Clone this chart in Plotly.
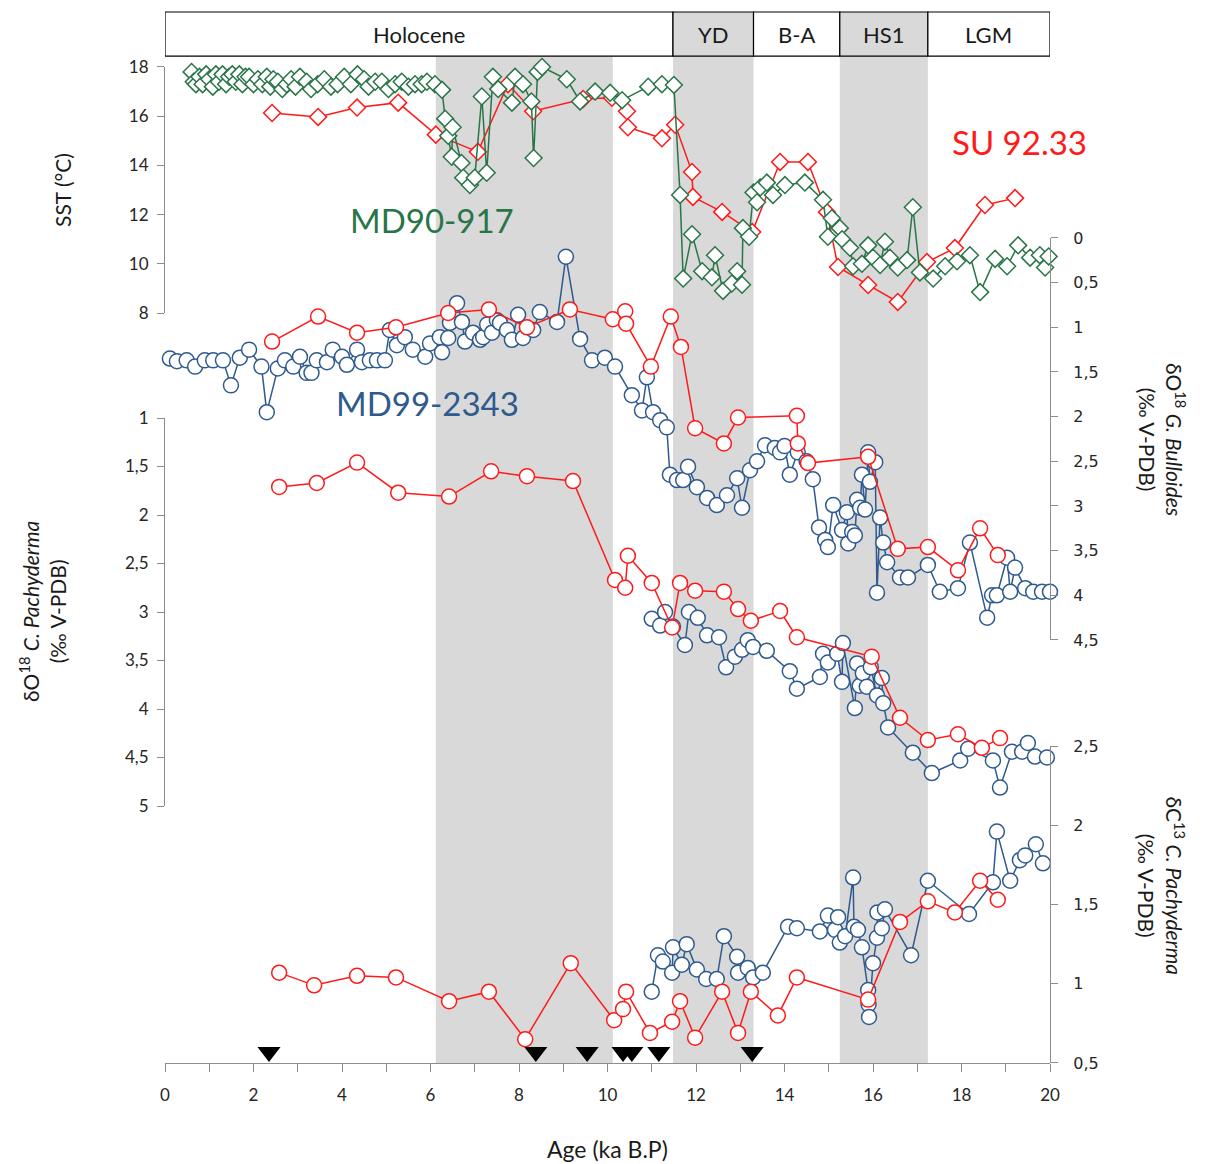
import plotly.graph_objects as go

# ---- data ----
periods = ['Holocene', 'YD', 'B-A', 'HS1', 'LGM']
period_start = [0, 11.48, 13.3, 15.25, 17.24]
period_end = [11.48, 13.3, 15.25, 17.24, 20.0]
period_shaded = [False, True, False, True, False]
band_start = [6.12, 11.48, 15.25]
band_end = [10.12, 13.3, 17.24]

# SST MD90-917
md90_age = [0.6, 0.65, 0.7, 0.78, 0.85, 0.93, 1.0, 1.08, 1.15, 1.22, 1.3, 1.38, 1.45, 1.52, 1.6,
            1.68, 1.75, 1.82, 1.9, 2.0, 2.1, 2.2, 2.3, 2.38, 2.45, 2.55, 2.65, 2.75, 2.85, 2.95,
            3.05, 3.2, 3.3, 3.45, 3.6, 3.75, 3.9, 4.05, 4.2, 4.35, 4.5, 4.6, 4.75, 4.9, 5.05,
            5.2, 5.35, 5.5, 5.65, 5.8, 5.92, 6.1, 6.26, 6.33, 6.4, 6.48, 6.5, 6.7, 6.74, 6.89,
            7.0, 7.16, 7.27, 7.41, 7.53, 7.84, 7.91, 8.09, 8.28, 8.33, 8.42, 8.52, 9.08, 9.38,
            9.72, 10.06, 10.33, 10.92, 11.23, 11.5, 11.64, 11.71, 11.91, 12.14, 12.36, 12.43,
            12.61, 12.81, 12.93, 13.04, 13.06, 13.2, 13.3, 13.38, 13.45, 13.6, 13.74, 14.01,
            14.46, 14.87, 14.98, 15.07, 15.25, 15.3, 15.48, 15.55, 15.75, 15.89, 16.0, 16.16,
            16.27, 16.38, 16.56, 16.77, 16.9, 17.06, 17.36, 17.63, 17.9, 18.19, 18.42, 18.76,
            19.03, 19.28, 19.55, 19.77, 19.89, 19.97]
md90_sst = [17.8, 17.4, 17.3, 17.6, 17.3, 17.7, 17.5, 17.2, 17.7, 17.4, 17.7, 17.3, 17.6, 17.7, 17.4,
            17.7, 17.3, 17.6, 17.6, 17.3, 17.5, 17.3, 17.6, 17.2, 17.5, 17.4, 17.1, 17.3, 17.5, 17.2,
            17.6, 17.4, 17.1, 17.3, 17.5, 17.2, 17.3, 17.6, 17.3, 17.7, 17.5, 17.2, 17.4, 17.4, 17.1,
            17.3, 17.4, 17.2, 17.3, 17.3, 17.4, 17.3, 17.07, 15.9, 15.2, 14.35, 15.55, 14.1, 13.5, 13.2,
            13.5, 16.8, 13.7, 17.6, 17.1, 16.55, 17.6, 17.3, 16.6, 14.3, 17.8, 18.0, 17.5, 16.6,
            17.0, 16.95, 16.65, 17.2, 17.3, 17.27, 12.8, 9.4, 11.2, 9.7, 9.45, 10.35,
            8.9, 9.2, 9.7, 9.15, 11.45, 11.1, 12.9, 12.5, 13.1, 13.3, 12.8, 13.2,
            13.3, 12.6, 11.1, 11.85, 11.45, 11.0, 10.65, 9.9, 10.0, 10.75, 10.25, 9.95,
            10.9, 10.25, 9.85, 10.15, 12.3, 9.65, 9.4, 9.9, 10.1, 10.35, 8.85, 10.2,
            9.9, 10.75, 10.25, 10.35, 9.85, 10.3]

# SST SU 92.33
su_sst_age = [2.42, 3.46, 4.34, 5.27, 6.12, 7.07, 7.75, 8.32, 9.45, 10.1, 10.44, 10.46, 11.23, 11.53,
              11.91, 11.93, 12.59, 13.27, 13.9, 14.53, 14.96, 15.21, 15.89, 16.56, 17.22, 17.85,
              18.53, 19.21]
su_sst = [16.13, 15.97, 16.35, 16.55, 15.25, 14.55, 17.3, 16.2, 16.7, 16.75, 16.2, 15.55, 15.1, 15.65,
          13.73, 12.72, 12.11, 11.29, 14.14, 14.14, 12.1, 9.87, 9.14, 8.45, 10.07, 10.64,
          12.39, 12.67]

# d18O G. bulloides MD99-2343
md99_bul_age = [0.11, 0.27, 0.49, 0.68, 0.9, 1.09, 1.31, 1.49, 1.69, 1.9, 2.18, 2.3, 2.55, 2.71, 2.9,
                3.05, 3.2, 3.31, 3.43, 3.66, 3.79, 4.0, 4.11, 4.34, 4.45, 4.63, 4.79, 4.97, 5.08,
                5.24, 5.42, 5.6, 5.88, 5.99, 6.21, 6.26, 6.4, 6.44, 6.6, 6.71, 6.78, 6.96, 7.12,
                7.19, 7.28, 7.39, 7.5, 7.57, 7.73, 7.84, 7.98, 8.09, 8.32, 8.47, 8.86, 9.06, 9.38,
                9.65, 9.94, 10.17, 10.55, 10.78, 10.89, 11.03, 11.19, 11.34, 11.41, 11.57, 11.71,
                11.82, 12.02, 12.25, 12.47, 12.7, 12.93, 13.04, 13.22, 13.38, 13.56, 13.78, 13.9,
                14.0, 14.12, 14.3, 14.5, 14.64, 14.78, 14.92, 14.98, 15.1, 15.3, 15.41, 15.44,
                15.53, 15.59, 15.64, 15.71, 15.75, 15.82, 15.89, 15.93, 16.05, 16.09, 16.16, 16.23,
                16.32, 16.61, 16.79, 17.24, 17.51, 17.92, 18.19, 18.58, 18.69, 18.8, 19.03, 19.1,
                19.21, 19.44, 19.62, 19.82, 20.0]
md99_bul = [1.35, 1.38, 1.37, 1.44, 1.37, 1.37, 1.37, 1.65, 1.34, 1.25, 1.44, 1.95, 1.46, 1.37, 1.44,
            1.33, 1.51, 1.51, 1.37, 1.39, 1.25, 1.33, 1.42, 1.25, 1.39, 1.37, 1.37, 1.37, 1.03,
            1.2, 1.11, 1.25, 1.33, 1.18, 1.11, 1.28, 1.12, 0.95, 0.73, 0.94, 1.16, 1.06, 1.14,
            1.11, 0.97, 1.06, 0.92, 0.95, 1.03, 1.14, 0.86, 1.12, 1.03, 0.83, 0.94, 0.21, 1.13,
            1.37, 1.34, 1.44, 1.76, 1.93, 1.56, 1.95, 2.04, 2.12, 2.65, 2.71, 2.71,
            2.56, 2.79, 2.91, 2.99, 2.88, 2.69, 3.02, 2.6, 2.5, 2.32, 2.35, 2.4,
            2.33, 2.65, 2.4, 2.5, 2.7, 3.24, 3.38, 3.46, 2.99, 3.27, 3.07, 3.42,
            3.29, 3.33, 2.93, 3.02, 2.65, 3.04, 2.4, 2.73, 2.51, 3.97, 3.13, 3.41,
            3.63, 3.8, 3.8, 3.66, 3.96, 3.92, 3.41, 4.25, 4.0, 4.0, 3.58, 3.96,
            3.69, 3.92, 3.96, 3.96, 3.96]

# d18O G. bulloides SU 92.33
su_bul_age = [2.42, 3.46, 4.34, 5.22, 6.4, 7.32, 8.18, 9.15, 10.12, 10.4, 10.42, 10.98, 11.43, 11.66,
              11.98, 12.63, 12.95, 14.28, 14.3, 14.53, 15.89, 16.56, 17.24, 17.92, 18.42, 18.82]
su_bul = [1.16, 0.88, 1.06, 1.0, 0.84, 0.8, 1.0, 0.8, 0.91, 0.82, 0.96, 1.44, 0.88, 1.22,
          2.13, 2.3, 2.01, 1.99, 2.3, 2.52, 2.45, 3.48, 3.46, 3.72, 3.25, 3.55]

# d18O C. pachyderma SU 92.33
su_pach_age = [2.58, 3.43, 4.34, 5.27, 6.42, 7.37, 8.18, 9.22, 10.17, 10.4, 10.46, 11.0, 11.46, 11.64,
               11.98, 12.63, 12.95, 13.24, 13.9, 14.28, 15.97, 16.61, 17.24, 17.92, 18.46, 18.87]
su_pach = [1.71, 1.67, 1.46, 1.77, 1.81, 1.55, 1.6, 1.65, 2.67, 2.75, 2.42, 2.7, 3.16, 2.7,
           2.78, 2.79, 2.97, 3.09, 2.99, 3.26, 3.46, 4.09, 4.32, 4.26, 4.4, 4.3]

# d18O C. pachyderma MD99-2343
md99_pach_age = [11.0, 11.19, 11.3, 11.48, 11.75, 11.84, 12.04, 12.25, 12.52, 12.68, 12.88, 13.04,
                 13.17, 13.29, 13.6, 14.12, 14.28, 14.8, 14.87, 14.98, 15.19, 15.3, 15.32, 15.59,
                 15.64, 15.7, 15.77, 15.86, 15.95, 16.09, 16.2, 16.23, 16.34, 16.9, 17.33, 17.97,
                 18.15, 18.71, 18.87, 19.14, 19.37, 19.5, 19.66, 19.93]
md99_pach = [3.07, 3.14, 3.0, 3.15, 3.34, 3.0, 3.06, 3.24, 3.26, 3.57, 3.46, 3.39,
             3.29, 3.36, 3.4, 3.61, 3.79, 3.67, 3.43, 3.52, 3.43, 3.72, 3.32, 3.99,
             3.53, 3.76, 3.63, 3.77, 3.57, 3.86, 3.68, 3.94, 4.19, 4.45, 4.66, 4.53,
             4.41, 4.53, 4.81, 4.44, 4.44, 4.35, 4.49, 4.5]

# d13C C. pachyderma SU 92.33
su_c13_age = [2.58, 3.37, 4.34, 5.22, 6.42, 7.32, 8.14, 9.17, 10.15, 10.35, 10.42, 10.96, 11.46,
              11.64, 11.98, 12.59, 12.95, 13.24, 13.85, 14.28, 15.89, 16.61, 17.24, 17.85,
              18.42, 18.82]
su_c13 = [1.07, 0.99, 1.05, 1.04, 0.89, 0.95, 0.65, 1.13, 0.77, 0.84, 0.95, 0.69, 0.76,
          0.89, 0.66, 0.95, 0.69, 0.95, 0.8, 1.04, 0.9, 1.39, 1.52, 1.45,
          1.65, 1.53]

# d13C C. pachyderma MD99-2343
md99_c13_age = [11.0, 11.14, 11.25, 11.46, 11.48, 11.68, 11.79, 12.02, 12.23, 12.47, 12.63, 12.93,
                12.95, 13.17, 13.29, 13.51, 14.08, 14.28, 14.8, 14.98, 15.14, 15.21, 15.25, 15.37,
                15.55, 15.57, 15.66, 15.75, 15.89, 15.9, 15.91, 16.0, 16.09, 16.1, 16.2, 16.27,
                16.86, 17.24, 18.17, 18.71, 18.8, 19.1, 19.32, 19.44, 19.68, 19.84]
md99_c13 = [0.95, 1.18, 1.14, 1.07, 1.23, 1.12, 1.25, 1.09, 1.03, 1.03, 1.3, 1.17,
            1.07, 1.1, 1.04, 1.07, 1.36, 1.35, 1.33, 1.43, 1.34, 1.42, 1.26, 1.3,
            1.67, 1.36, 1.34, 1.23, 0.96, 0.87, 0.79, 1.13, 1.29, 1.45, 1.35, 1.47,
            1.18, 1.65, 1.44, 1.64, 1.96, 1.65, 1.78, 1.81, 1.88, 1.76]

# 14C dates (triangles)
date_age = [2.35, 8.38, 9.54, 10.35, 10.55, 11.16, 13.27]
date_level = [0.57] * len(date_age)

RED = '#ff1a1a'
GREEN = '#2a7548'
BLUE = '#2f5a8e'
AXIS = '#8c8c8c'
FONT = 'Lato, Open Sans, sans-serif'


def series(x, y, color, yaxis, symbol, size):
    return go.Scatter(
        x=x, y=y, yaxis=yaxis, mode='lines+markers',
        line=dict(color=color, width=1.5),
        marker=dict(symbol=symbol, size=size, color='white', line=dict(color=color, width=1.5)),
        cliponaxis=False, showlegend=False,
    )


fig = go.Figure()

fig.add_trace(series(su_sst_age, su_sst, RED, 'y', 'diamond', 13))
fig.add_trace(series(md90_age, md90_sst, GREEN, 'y', 'diamond', 13))
fig.add_trace(series(md99_bul_age, md99_bul, BLUE, 'y2', 'circle', 15))
fig.add_trace(series(su_bul_age, su_bul, RED, 'y2', 'circle', 15))
fig.add_trace(series(md99_pach_age, md99_pach, BLUE, 'y3', 'circle', 15))
fig.add_trace(series(su_pach_age, su_pach, RED, 'y3', 'circle', 15))
fig.add_trace(series(md99_c13_age, md99_c13, BLUE, 'y4', 'circle', 15))
fig.add_trace(series(su_c13_age, su_c13, RED, 'y4', 'circle', 15))

fig.add_trace(go.Scatter(
    x=date_age, y=date_level, yaxis='y4', mode='markers',
    marker=dict(symbol='triangle-down', size=20, color='black'),
    cliponaxis=False, showlegend=False,
))

# shaded intervals
for x0, x1 in zip(band_start, band_end):
    fig.add_shape(type='rect', xref='x', yref='paper', x0=x0, x1=x1, y0=0, y1=0.958,
                  fillcolor='#d9d9d9', line=dict(width=0), layer='below')

# period header boxes
for name, x0, x1, shaded in zip(periods, period_start, period_end, period_shaded):
    fig.add_shape(type='rect', xref='x', yref='paper', x0=x0, x1=x1, y0=0.958, y1=1.0,
                  fillcolor='#d9d9d9' if shaded else 'white', line=dict(color='black', width=1.2))
    fig.add_annotation(x=(x0 + x1) / 2, y=0.979, xref='x', yref='paper', text=name,
                       xanchor='center', yanchor='middle',
                       showarrow=False, font=dict(size=22, color='#1a1a1a'))

# core labels
fig.add_annotation(x=19.3, y=14.95, xref='x', yref='y', text='SU 92.33', showarrow=False,
                   xanchor='center', yanchor='middle', font=dict(size=33, color=RED))
fig.add_annotation(x=6.04, y=11.78, xref='x', yref='y', text='MD90-917', showarrow=False,
                   xanchor='center', yanchor='middle', font=dict(size=33, color=GREEN))
fig.add_annotation(x=5.94, y=1.85, xref='x', yref='y2', text='MD99-2343', showarrow=False,
                   xanchor='center', yanchor='middle', font=dict(size=33, color=BLUE))

# axis titles
title_font = dict(size=21, color='#1a1a1a', family=FONT)
fig.add_annotation(x=0, y=13.0, xref='paper', yref='y', text='SST (°C)', showarrow=False,
                   xanchor='center', yanchor='middle', textangle=-90, xshift=-102, font=title_font)
fig.add_annotation(x=0, y=3.0, xref='paper', yref='y3',
                   text='δO<sup>18</sup> <i>C. Pachyderma</i><br>(‰ V-PDB)', showarrow=False,
                   xanchor='center', yanchor='middle', textangle=-90, xshift=-123, font=title_font)
fig.add_annotation(x=1, y=2.25, xref='paper', yref='y2',
                   text='δO<sup>18</sup> <i>G. Bulloides</i><br>(‰ V-PDB)', showarrow=False,
                   xanchor='center', yanchor='middle', textangle=90, xshift=112, font=title_font)
fig.add_annotation(x=1, y=1.62, xref='paper', yref='y4',
                   text='δC<sup>13</sup> <i>C. Pachyderma</i><br>(‰ V-PDB)', showarrow=False,
                   xanchor='center', yanchor='middle', textangle=90, xshift=112, font=title_font)
fig.add_annotation(x=0.5, y=0, xref='paper', yref='paper', text='Age (ka B.P)', showarrow=False,
                   xanchor='center', yanchor='middle', yshift=-86,
                   font=dict(size=23, color='#1a1a1a', family=FONT))

yax = dict(showline=True, linecolor=AXIS, linewidth=1.2, ticks='outside', tickcolor=AXIS,
           ticklen=7, showgrid=False, zeroline=False, anchor='x',
           tickfont=dict(size=17, color='#262626', family=FONT))

# the page body adds an 8 px offset, so margins are shifted accordingly
fig.update_layout(
    width=1207, height=1164,
    margin=dict(l=157, r=165, t=4, b=109, autoexpand=False),
    paper_bgcolor='white', plot_bgcolor='rgba(0,0,0,0)',
    separators=', ',
    font=dict(family=FONT),
    xaxis=dict(range=[0, 20], anchor='free', position=0, showline=True, linecolor=AXIS,
               linewidth=1.2, ticks='outside', tickcolor=AXIS, ticklen=8, dtick=2, tick0=0,
               minor=dict(dtick=1, ticks='outside', ticklen=8, tickcolor=AXIS),
               showgrid=False, zeroline=False, ticklabelstandoff=8,
               tickfont=dict(size=17, color='#262626', family=FONT)),
    yaxis=dict(yax, domain=[0.7136, 0.9477], range=[8, 18], dtick=2, side='left',
               ticklabelstandoff=5),
    yaxis2=dict(yax, domain=[0.4025, 0.7850], range=[4.5, 0], dtick=0.5, side='right'),
    yaxis3=dict(yax, domain=[0.2445, 0.6137], range=[5, 1], dtick=0.5, side='left',
                ticklabelstandoff=5),
    yaxis4=dict(yax, domain=[0.0, 0.3016], range=[0.5, 2.5], dtick=0.5, side='right'),
)
fig.update_yaxes(tickfont=dict(size=16, color='#262626', family='DejaVu Sans'),
                 ticklabelstandoff=12, selector=dict(side='right'))

fig.write_html('out.html')
